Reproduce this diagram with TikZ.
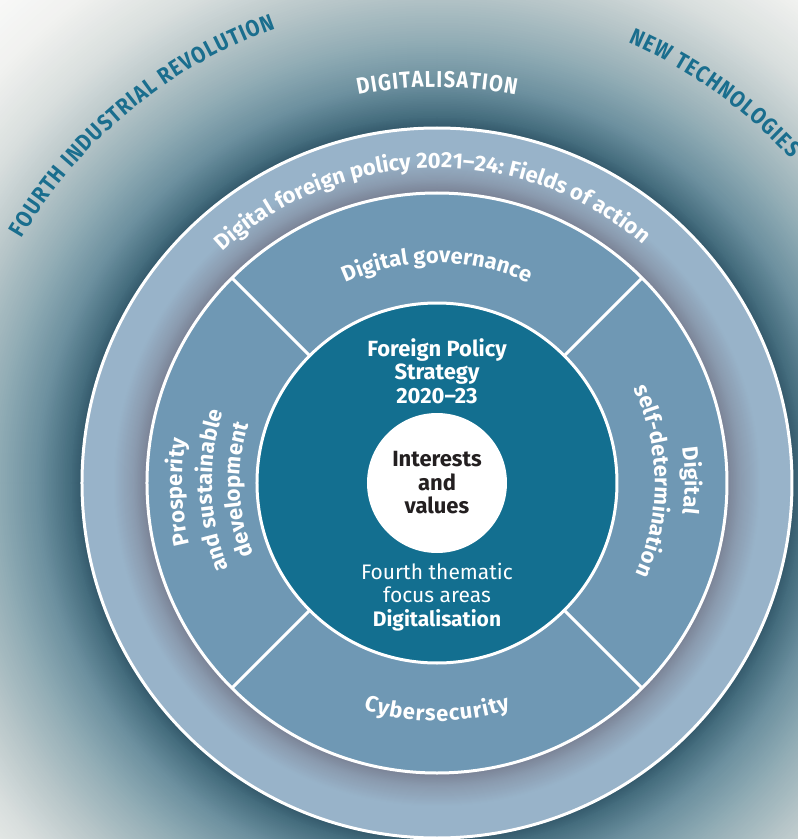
\documentclass[tikz,border=0pt]{standalone}
\usepackage{fontspec}
\setmainfont{Fira Sans}
\newfontfamily\barlike[FakeStretch=0.87]{Fira Sans}
\usetikzlibrary{decorations.text}

\definecolor{bgdeep}{HTML}{34596B}
\definecolor{bgdark}{HTML}{426A7B}
\definecolor{bgmid}{HTML}{6C909F}
\definecolor{bgsoft}{HTML}{8FABB4}
\definecolor{bgpale}{HTML}{B6C5C8}
\definecolor{bgmist}{HTML}{D8DEDD}
\definecolor{bgfog}{HTML}{F0F1EF}
\definecolor{ringlight}{HTML}{98B3C9}
\definecolor{ringshadow}{HTML}{7B8497}
\definecolor{ringhalf}{HTML}{8A9AAE}
\definecolor{fieldblue}{HTML}{6F98B4}
\definecolor{coreteal}{HTML}{136F90}
\definecolor{labelteal}{HTML}{1A6E8E}
\definecolor{coretext}{HTML}{231F20}

\newcommand{\arcfont}{\bfseries\fontsize{22}{22}\selectfont}
\newcommand{\capfont}{\barlike\bfseries\fontsize{23}{23}\selectfont}

\begin{document}
\begin{tikzpicture}[x=1pt,y=1pt,
  ring/.style={draw=white,line width=3pt},
  core text/.style={align=center,font=\bfseries\fontsize{22}{23.5}\selectfont},
  focus text/.style={align=center,font=\fontsize{21}{23.5}\selectfont}]
  \tikzset{ArcLabel/.style = {decorate,decoration={text along path,text color=white,text align=center,text={#1}}},
    FitLabel/.style = {decorate,decoration={text along path,text color=#1,text align=fit to path}}}

  \useasboundingbox (-437,-356) rectangle (361,483);
  \begin{scope}
    \clip (-437,-356) rectangle (361,483);
    \foreach \ro/\ri/\co/\ci in {700/600/white/bgfog, 600/540/bgfog/bgmist, 540/490/bgmist/bgpale,
        490/440/bgpale/bgsoft, 440/400/bgsoft/bgmid, 400/365/bgmid/bgdark, 365/355/bgdark/bgdeep}
      \foreach \t in {0,5,...,100}
        \fill[fill=\ci!\t!\co] (0,0) circle ({\ro-(\ro-\ri)*\t/100});
  \end{scope}

  % rings
  \fill[ringlight] (0,0) circle (355);
  \foreach \ro/\ri/\co/\ci in {324/303/ringlight/ringhalf, 303/291/ringhalf/ringshadow}
    \foreach \t in {0,5,...,100}
      \fill[fill=\ci!\t!\co] (0,0) circle ({\ro-(\ro-\ri)*\t/100});
  \draw[ring] (0,0) circle (355);
  \filldraw[ring,fill=fieldblue] (0,0) circle (290);
  \foreach \a in {45,135,225,315}
    \draw[ring] (\a:180) -- (\a:290);
  \filldraw[ring,fill=coreteal] (0,0) circle (180);

  % outer words
  \path[FitLabel=labelteal,decoration={text={|\capfont|FOURTH INDUSTRIAL REVOLUTION}}]
    (149.5:482) arc[start angle=149.5,end angle=109.5,radius=482];
  \path[FitLabel=labelteal,decoration={text={|\capfont|NEW TECHNOLOGIES}}]
    (66.5:480) arc[start angle=66.5,end angle=42.5,radius=480];
  \path[FitLabel=white,decoration={text={|\capfont|DIGITALISATION}}]
    (101.5:396) arc[start angle=101.5,end angle=78.5,radius=396];
  \path[ArcLabel={|\arcfont|Digital foreign policy 2021–24: Fields of action}]
    (150:315) arc[start angle=150,end angle=32,radius=315];

  % fields of action
  \path[ArcLabel={|\arcfont|Digital governance}]
    (130:220) arc[start angle=130,end angle=50,radius=220];
  \path[FitLabel=white,decoration={text={|\arcfont|Cybersecurity}}]
    (252:238) arc[start angle=252,end angle=288,radius=238];
  \path[ArcLabel={|\arcfont|Prosperity}]
    (217:255) arc[start angle=217,end angle=147,radius=255];
  \path[ArcLabel={|\arcfont|and sustainable}]
    (222:225) arc[start angle=222,end angle=142,radius=225];
  \path[ArcLabel={|\arcfont|development}]
    (222:197) arc[start angle=222,end angle=142,radius=197];
  \path[ArcLabel={|\arcfont|Digital}]
    (40.5:248) arc[start angle=40.5,end angle=-39.5,radius=248];
  \path[ArcLabel={|\arcfont|self-determination}]
    (40.5:218) arc[start angle=40.5,end angle=-39.5,radius=218];

  % centre
  \node[core text,text=white] (strategy) at (0,112) {Foreign Policy\\Strategy\\2020–23};
  \node[circle,fill=white,minimum size=140pt,core text,text=coretext] (values) at (0,0) {Interests\\and\\values};
  \node[focus text,text=white] (focus) at (0,-114) {Fourth thematic\\focus areas\\\textbf{Digitalisation}};
\end{tikzpicture}
\end{document}
